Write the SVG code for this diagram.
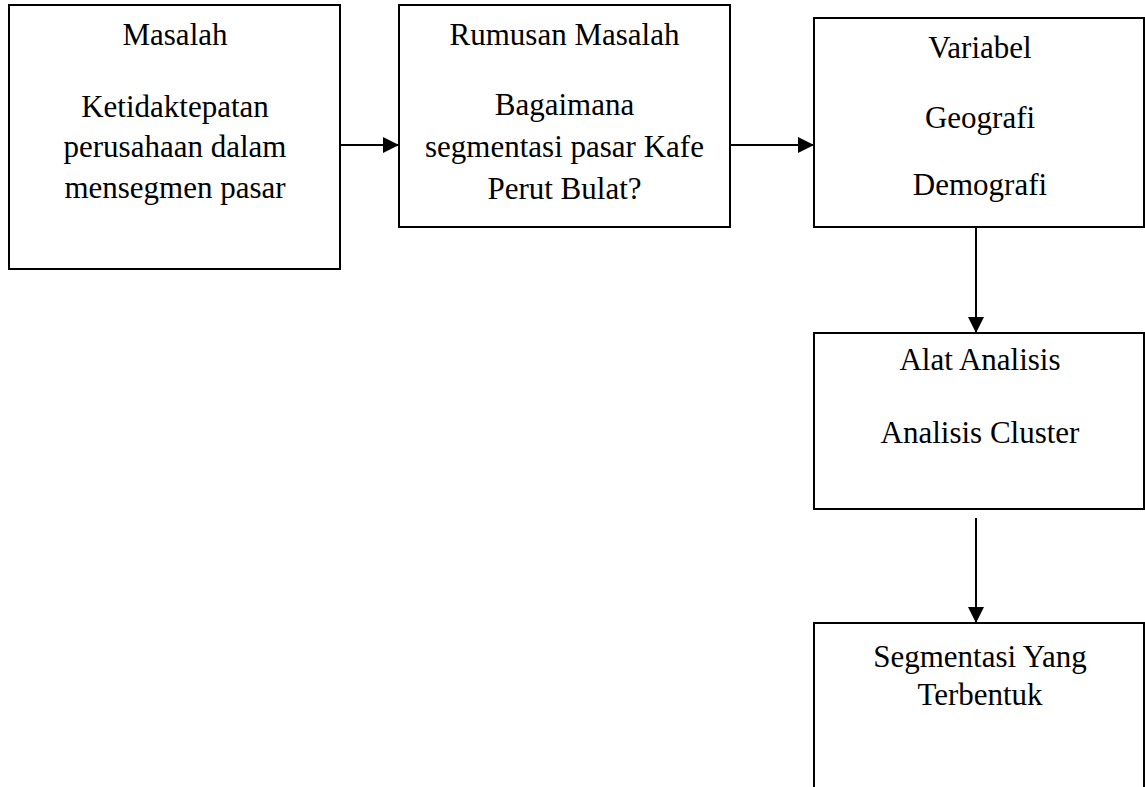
<svg xmlns="http://www.w3.org/2000/svg" width="1145" height="787" viewBox="0 0 1145 787">
<defs>
<style>
.box{fill:#fff;stroke:#000;stroke-width:2}
.t{font-family:"Liberation Serif","Times New Roman",serif;font-size:31px;fill:#000;text-anchor:middle}
.c{stroke:#000;stroke-width:2;fill:none;marker-end:url(#ah)}
</style>
<marker id="ah" markerUnits="userSpaceOnUse" markerWidth="16" markerHeight="16" refX="16" refY="8" orient="auto">
<path d="M0,0 L16,8 L0,16 z" fill="#000"/>
</marker>
</defs>
<rect width="1145" height="787" fill="#fff"/>
<g id="masalah">
<rect class="box" x="9" y="5" width="331" height="264"/>
<text class="t" x="175" y="45">Masalah</text>
<text class="t" x="175" y="117">Ketidaktepatan</text>
<text class="t" x="175" y="157">perusahaan dalam</text>
<text class="t" x="175" y="198">mensegmen pasar</text>
</g>
<g id="rumusan">
<rect class="box" x="399" y="5" width="331" height="222"/>
<text class="t" x="564.5" y="45">Rumusan Masalah</text>
<text class="t" x="564.5" y="115">Bagaimana</text>
<text class="t" x="564.5" y="157">segmentasi pasar Kafe</text>
<text class="t" x="564.5" y="199">Perut Bulat?</text>
</g>
<g id="variabel">
<rect class="box" x="814" y="18" width="330" height="209"/>
<text class="t" x="980" y="58">Variabel</text>
<text class="t" x="980" y="128">Geografi</text>
<text class="t" x="980" y="195">Demografi</text>
</g>
<g id="alat">
<rect class="box" x="814" y="333" width="330" height="176"/>
<text class="t" x="980" y="370">Alat Analisis</text>
<text class="t" x="980" y="443">Analisis Cluster</text>
</g>
<g id="segmentasi">
<rect class="box" x="814" y="623" width="330" height="180"/>
<text class="t" x="980" y="667">Segmentasi Yang</text>
<text class="t" x="980" y="705">Terbentuk</text>
</g>
<g id="connectors">
<line class="c" x1="340" y1="145" x2="399" y2="145"/>
<line class="c" x1="730" y1="145" x2="814" y2="145"/>
<line class="c" x1="976" y1="227" x2="976" y2="333"/>
<line class="c" x1="976" y1="518" x2="976" y2="623"/>
</g>
</svg>
